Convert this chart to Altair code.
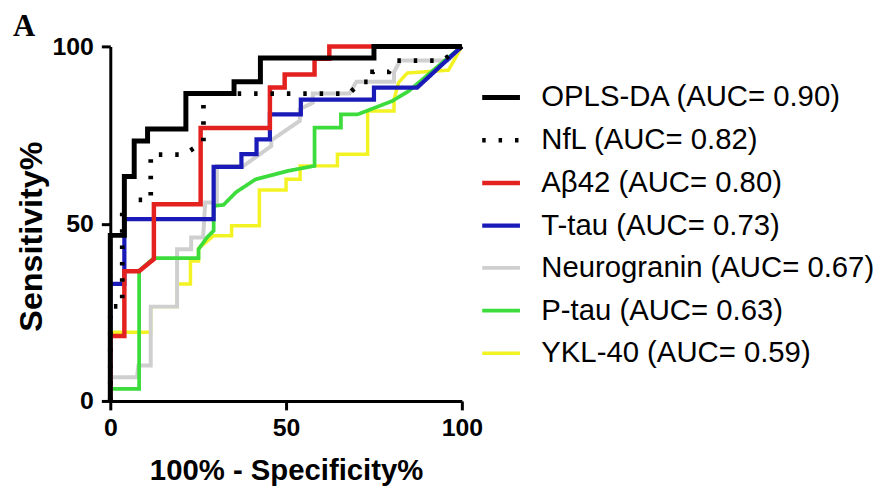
import altair as alt
import pandas as pd

# Series labels (legend text)
names = [
    "OPLS-DA (AUC= 0.90)",
    "NfL (AUC= 0.82)",
    "Aβ42 (AUC= 0.80)",
    "T-tau (AUC= 0.73)",
    "Neurogranin (AUC= 0.67)",
    "P-tau (AUC= 0.63)",
    "YKL-40 (AUC= 0.59)",
]
colors = ["#000000", "#000000", "#e3211f", "#1a1ab8", "#cfcfcf", "#3ddc3d", "#f3f324"]
dashes = [[1, 0], [3.5, 13], [1, 0], [1, 0], [1, 0], [1, 0], [1, 0]]
widths = [5, 3.5, 3, 3, 3, 3, 3]
panel_label = ["A"]

# ROC curves: 100% - Specificity% (x) and Sensitivity% (y)
opls_x = [0, 0, 4, 4, 6.8, 6.8, 10.6, 10.6, 21.5, 21.5, 35.2, 35.2, 42.7, 42.7, 75, 75, 100]
opls_y = [0, 46.7, 46.7, 63.3, 63.3, 73.3, 73.3, 76.7, 76.7, 86.7, 86.7, 90, 90, 96.7, 96.7, 100, 100]

nfl_x = [0, 0, 3.4, 3.4, 11.5, 11.5, 21, 26.5, 26.5, 67.9, 71.4, 74.6, 74.6, 79.3, 81.5, 94.5, 100]
nfl_y = [0, 26.7, 26.7, 56.7, 56.7, 69.5, 69.5, 73, 86.7, 86.7, 90, 90, 92.8, 92.8, 96, 96, 100]

abeta_x = [0, 0, 4, 4, 8.2, 12.4, 12.4, 25.7, 25.7, 45.4, 45.4, 49.6, 49.6, 58.1, 58.1, 62.3, 62.3, 100]
abeta_y = [0, 18.3, 18.3, 36.6, 36.6, 40, 55.5, 55.5, 77, 77, 88.4, 88.4, 92.1, 92.1, 96.5, 96.5, 100, 100]

ttau_x = [0, 0, 4, 4, 29.4, 29.4, 37.3, 37.3, 41.6, 41.6, 45.4, 45.4, 54.2, 54.2, 75, 75, 87.3, 100]
ttau_y = [0, 33, 33, 51.3, 51.3, 66, 66, 69.6, 69.6, 73.8, 73.8, 80.8, 80.8, 85, 85, 88.4, 88.4, 100]

ng_x = [0, 0, 7.6, 8, 11.5, 11.5, 19, 19, 23, 23, 26.4, 27, 30.3, 30.3, 37.9, 45.8, 45.8, 49.6,
        53.9, 53.9, 57.6, 57.6, 68, 70, 80.7, 80.7, 82.5, 96, 100]
ng_y = [0, 6.7, 6.7, 10, 10, 26.6, 26.6, 42.8, 42.8, 46.1, 46.1, 56, 56, 66.3, 66.3, 71.9, 73.5, 76.1,
        79, 82.3, 84.1, 86.7, 86.7, 90, 90, 92.8, 96, 96, 100]

ptau_x = [0, 0, 8.2, 8.2, 12.4, 25.1, 25.1, 27.5, 29.4, 29.4, 32.2, 35.8, 41.3, 50.6, 58.1, 58.1,
          65.6, 65.6, 70.3, 80.2, 84.9, 94.4, 100]
ptau_y = [0, 3.4, 3.4, 36.7, 40.3, 40.3, 42.8, 46.1, 48, 55, 55.3, 58.9, 62.5, 64.9, 66.3, 77.1,
          77.1, 80.8, 80.8, 84.6, 87.4, 95.4, 100]

ykl_x = [0, 0, 11.5, 11.5, 19, 19, 22.8, 22.8, 25.1, 25.1, 29.4, 34.5, 34.5, 42.4, 42.4, 50, 50,
         54, 54, 64.6, 64.6, 73.2, 73.2, 80.7, 80.7, 82, 84.5, 96.2, 100]
ykl_y = [0, 19.4, 19.4, 26.6, 26.6, 33, 33, 39.5, 39.5, 43, 46.6, 46.6, 49.4, 49.4, 59.5, 59.5, 62.5,
         62.5, 66.3, 66.3, 69.6, 69.6, 81.8, 81.8, 85, 89.8, 92.5, 93.3, 100]

series_xy = [
    (names[0], opls_x, opls_y),
    (names[1], nfl_x, nfl_y),
    (names[2], abeta_x, abeta_y),
    (names[3], ttau_x, ttau_y),
    (names[4], ng_x, ng_y),
    (names[5], ptau_x, ptau_y),
    (names[6], ykl_x, ykl_y),
]
DRAW_ORDER = [names[6], names[4], names[5], names[3], names[2], names[1], names[0]]

rows = []
for name, xs, ys in series_xy:
    for i, (xv, yv) in enumerate(zip(xs, ys)):
        rows.append({"series": name, "fpr": xv, "tpr": yv, "idx": i})
df = pd.DataFrame(rows)

FONT = "Liberation Sans"

legend = alt.Legend(
    title=None, orient="none", legendX=372, legendY=30,
    symbolType="stroke", symbolSize=1444, padding=0,
    labelFont=FONT, labelFontSize=29.5, labelColor="black", labelOffset=19,
    labelLimit=600, rowPadding=7,
)

x_enc = alt.X(
    "fpr:Q",
    scale=alt.Scale(domain=[0, 100], nice=False),
    axis=alt.Axis(
        values=[0, 50, 100], title="100% - Specificity%", labelFlush=False,
        titleX=177, titleY=79, titleBaseline="alphabetic", titleAlign="center",
        titleFontSize=29.5, labelPadding=6,
    ),
)
y_enc = alt.Y(
    "tpr:Q",
    scale=alt.Scale(domain=[0, 100], nice=False),
    axis=alt.Axis(
        values=[0, 50, 100], title="Sensitivity%",
        titleX=-79, titleY=191, titleAngle=270, titleAlign="center",
        titleBaseline="middle", titleFontSize=32.5, labelPadding=8,
    ),
)

layers = []
for name in DRAW_ORDER:
    layers.append(
        alt.Chart(df)
        .transform_filter(alt.datum.series == name)
        .mark_line(strokeJoin="miter", interpolate="linear")
        .encode(
            x=x_enc,
            y=y_enc,
            color=alt.Color("series:N", scale=alt.Scale(domain=names, range=colors), legend=legend, sort=names),
            strokeDash=alt.StrokeDash("series:N", scale=alt.Scale(domain=names, range=dashes), legend=legend, sort=names),
            strokeWidth=alt.StrokeWidth("series:N", scale=alt.Scale(domain=names, range=widths), legend=legend, sort=names),
            order=alt.Order("idx:Q"),
        )
    )

label_layer = (
    alt.Chart(pd.DataFrame({"t": panel_label}))
    .mark_text(align="left", baseline="alphabetic", font="Liberation Serif",
               fontSize=31, fontWeight="bold", color="black")
    .encode(x=alt.value(-98), y=alt.value(-10), text="t:N")
)
layers.append(label_layer)

chart = (
    alt.layer(*layers)
    .properties(
        width=354, height=357,
        autosize=alt.AutoSizeParams(type="none"),
        padding={"left": 103, "top": 37, "right": 416, "bottom": 86},
    )
    .configure_view(stroke=None)
    .configure_axis(
        grid=False, domainColor="black", domainWidth=3, tickColor="black",
        tickWidth=3, tickSize=9, labelFont=FONT, labelFontWeight="bold",
        labelFontSize=25, labelColor="black", titleFont=FONT,
        titleFontWeight="bold", titleColor="black",
    )
)

chart.save("out.html", embed_options={"renderer": "svg", "actions": False})
